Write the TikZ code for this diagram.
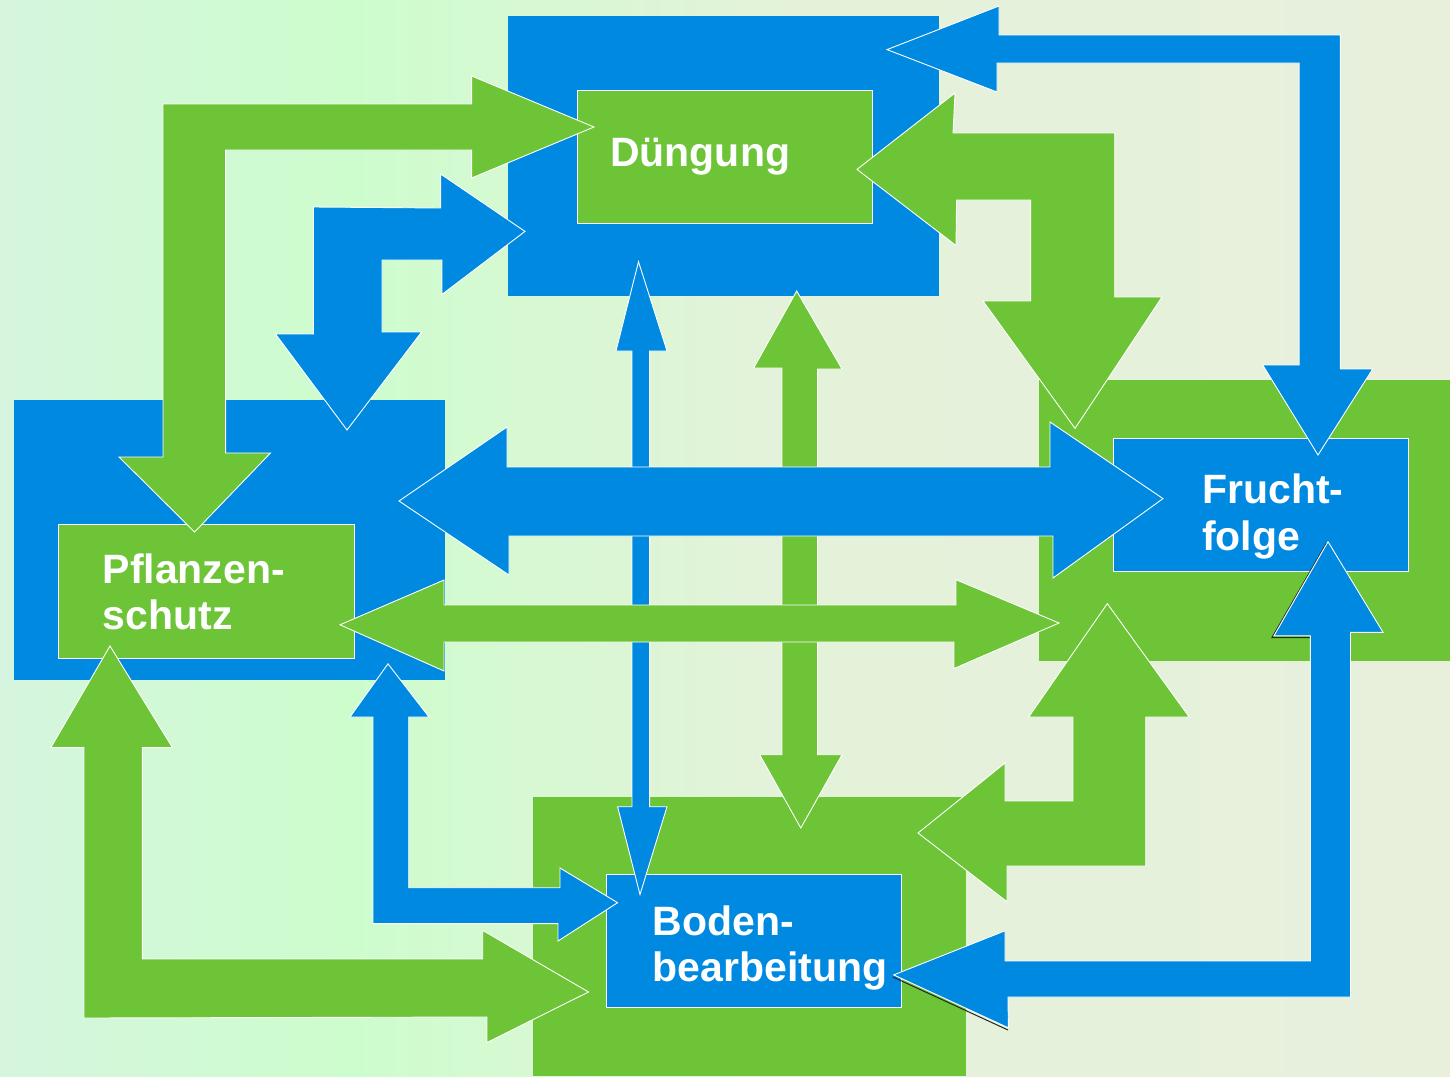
\documentclass[tikz,border=0pt]{standalone}
\usepackage{fontspec}
\setmainfont{Liberation Sans}
\definecolor{cblue}{RGB}{0,137,224}
\definecolor{cgreen}{RGB}{108,196,54}
\definecolor{bgA}{HTML}{D5F5DE}
\definecolor{bgB}{HTML}{CDFDCD}
\definecolor{bgC}{HTML}{E4F2DA}
\definecolor{bgD}{HTML}{E8F0DC}
% soft left-to-right background wash (path box maps onto 25bp..75bp)
\pgfdeclarehorizontalshading{bgwash}{100bp}{color(0bp)=(bgA); color(25bp)=(bgA); color(37bp)=(bgB); color(52bp)=(bgC); color(75bp)=(bgD); color(100bp)=(bgD)}
\begin{document}
\begin{tikzpicture}[x=1pt,y=-1pt,
  bluepad/.style={fill=cblue},
  greenpad/.style={fill=cgreen},
  bluebox/.style={fill=cblue, draw=white, line width=0.8pt, inner sep=0pt},
  greenbox/.style={fill=cgreen, draw=white, line width=0.8pt, inner sep=0pt},
  bluearrow/.style={fill=cblue, draw=white, line width=0.9pt},
  greenarrow/.style={fill=cgreen, draw=white, line width=0.9pt},
  shadowline/.style={draw=black!85, line width=1pt},
  lbl/.style={text=white, font=\fontsize{41}{47}\selectfont\bfseries, inner sep=0pt, anchor=base west}]

\useasboundingbox (0,0) rectangle (1450,1076);
\shade[shading=bgwash] (0,0) rectangle (1450,1076);

% coloured pads behind the four topic boxes
\fill[bluepad]  (508,16)   rectangle (939,296);
\fill[bluepad]  (14,400)   rectangle (445,680);
\fill[greenpad] (1039,380) rectangle (1450,661);
\fill[greenpad] (533,797)  rectangle (966,1076);

% topic boxes
\node[greenbox, minimum width=295pt, minimum height=133pt] (dbox) at (724.5,156.5) {};
\node[greenbox, minimum width=296pt, minimum height=134pt] (pbox) at (206,591) {};
\node[bluebox,  minimum width=295pt, minimum height=133pt] (fbox) at (1260.5,504.5) {};
\node[bluebox,  minimum width=295pt, minimum height=133pt] (bbox) at (753.5,940.5) {};

% vertical double arrows between Duengung and Bodenbearbeitung
\filldraw[bluearrow] (638.5,261.7) -- (667,351) -- (649.6,351) -- (649.6,806.7) -- (667,806.7)
  -- (640,894.5) -- (617.6,806.7) -- (632,806.7) -- (632,351) -- (616,351) -- cycle;
\filldraw[greenarrow] (796.7,291) -- (842,369) -- (817.5,369) -- (817.5,754.7) -- (842,754.7)
  -- (800.8,828) -- (759.7,754.7) -- (781.9,754.7) -- (781.9,368) -- (753.7,368) -- cycle;

% angled double arrows, top left
\filldraw[greenarrow] (594,127) -- (471.6,178) -- (471.6,150) -- (225.6,150) -- (225.6,453)
  -- (270.5,453) -- (194.6,532) -- (119,457) -- (163,457) -- (163,104) -- (471.6,104)
  -- (471.6,76) -- cycle;
\filldraw[bluearrow] (525,231.4) -- (442,294.4) -- (442,260) -- (382,260) -- (382,332)
  -- (421.6,332) -- (347,430) -- (275.5,334) -- (313.5,334) -- (313.5,207) -- (440.6,208)
  -- (440.6,174) -- cycle;

% angled double arrows, top right
\filldraw[bluearrow] (887,49.6) -- (999,6) -- (999,35) -- (1340.4,35) -- (1340.4,369)
  -- (1372.7,369) -- (1318,455) -- (1262.7,365) -- (1299.2,365) -- (1299.2,63) -- (997,63)
  -- (997,92) -- cycle;
\filldraw[greenarrow] (857,169.4) -- (955,93) -- (953,133) -- (1114.7,133) -- (1114.7,297)
  -- (1162,297) -- (1075,428.4) -- (983,301) -- (1030.6,301) -- (1030.6,200) -- (956.6,200)
  -- (956,245.5) -- cycle;

% angled double arrows, bottom right
\draw[shadowline] (1326.5,543) -- (1272,637.5) -- (1310,637.5);
\draw[shadowline] (893,977) -- (1008,1030);
\filldraw[bluearrow] (1328,541.7) -- (1383,632.3) -- (1350.5,632.3) -- (1350.5,997) -- (1008,997)
  -- (1008.4,1027.8) -- (893.7,974.9) -- (1005,930.8) -- (1005,961) -- (1310.3,961)
  -- (1310.3,635.7) -- (1274,635.7) -- cycle;
\filldraw[greenarrow] (1107.3,603.6) -- (1189.2,717) -- (1145.7,717) -- (1145.7,866) -- (1007,866)
  -- (1007,901.7) -- (918,833) -- (1005,763) -- (1005,801) -- (1073,801) -- (1073,717)
  -- (1028.7,717) -- cycle;

% angled double arrows, bottom left
\filldraw[bluearrow] (388,663.8) -- (429,717) -- (408.7,717) -- (408.7,887.7) -- (560,887.7)
  -- (560,868) -- (617.6,902.7) -- (558,941) -- (558,923.6) -- (373,923.6) -- (373,717)
  -- (350,717) -- cycle;
\filldraw[greenarrow] (110,646) -- (172.4,747.5) -- (142.4,747.5) -- (142.4,959) -- (482.7,959)
  -- (482.7,930.4) -- (588.5,992) -- (486.8,1042.6) -- (486.8,1017) -- (84,1018) -- (84,747.5)
  -- (50.9,747.5) -- cycle;

% horizontal double arrows between Pflanzenschutz and Fruchtfolge
\filldraw[bluearrow] (399,501) -- (507,427) -- (507,467) -- (1050,467) -- (1050,422)
  -- (1163,498.6) -- (1053,578) -- (1053,536) -- (509,536) -- (509,575) -- cycle;
\filldraw[greenarrow] (340,624.8) -- (444,580) -- (444,605) -- (956,605) -- (956,579.7)
  -- (1059,623) -- (954,668.5) -- (954,642) -- (444,642) -- (444,671) -- cycle;

% labels
\node[lbl] (dtext)  at (610,166)    {Düngung};
\node[lbl] (ptext1) at (102.5,583.4) {Pflanzen-};
\node[lbl] (ptext2) at (102.5,629)   {schutz};
\node[lbl] (ftext1) at (1202,503.5)  {Frucht-};
\node[lbl] (ftext2) at (1202,550)    {folge};
\node[lbl] (btext1) at (652.5,935.5) {Boden-};
\node[lbl] (btext2) at (652.5,981.5) {bearbeitung};
\end{tikzpicture}
\end{document}
